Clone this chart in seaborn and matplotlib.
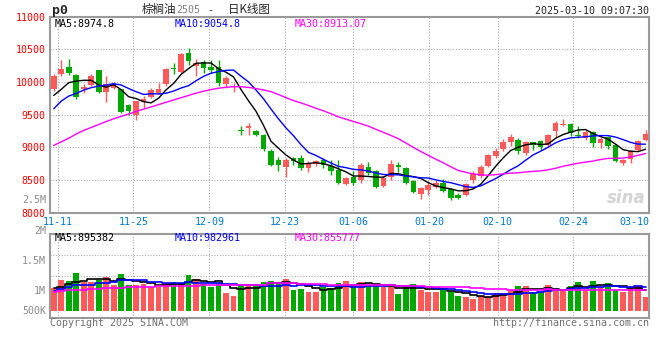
import numpy as np
import pandas as pd
import matplotlib
matplotlib.use('Agg')
import matplotlib.pyplot as plt
import seaborn as sns

# 棕榈油2505 日K, 2024-11-08 .. 2025-03-10 (80 个交易日)
opens = [9888, 10129, 10237, 10103, 9888, 9954, 10180, 9846, 9915, 9888,
         9642, 9503, 9692, 9775, 9826, 9975, 10220, 10160, 10452, 10246,
         10314, 10231, 10237, 9965, 9923, 9273, 9298, 9246, 9196, 8939,
         8805, 8693, 8837, 8837, 8683, 8745, 8805, 8708, 8657, 8437,
         8539, 8504, 8698, 8642, 8411, 8544, 8724, 8683, 8478, 8283,
         8350, 8391, 8452, 8360, 8273, 8273, 8504, 8555, 8708, 8862,
         8976, 9077, 9108, 8914, 9077, 9093, 9032, 9246, 9339, 9365,
         9196, 9145, 9231, 9068, 9154, 9042, 8760, 8822, 8965, 9108]
highs = [10118, 10338, 10360, 10129, 9975, 10129, 10190, 10092, 9995, 9900,
         9660, 9710, 9785, 9914, 9990, 10210, 10298, 10452, 10514, 10349,
         10334, 10334, 10334, 10092, 9990, 9334, 9375, 9273, 9206, 8980,
         8845, 8837, 8845, 8888, 8796, 8811, 8837, 8805, 8805, 8540,
         8642, 8760, 8771, 8657, 8555, 8811, 8771, 8698, 8504, 8400,
         8478, 8504, 8514, 8380, 8299, 8452, 8637, 8734, 8903, 8991,
         9129, 9211, 9145, 9093, 9083, 9119, 9211, 9400, 9437, 9376,
         9323, 9262, 9246, 9160, 9180, 9057, 8822, 8965, 9119, 9262]
lows = [9862, 10092, 10103, 9745, 9837, 9938, 9831, 9692, 9888, 9519,
        9503, 9426, 9606, 9760, 9811, 9938, 10129, 10145, 10257, 10092,
        10145, 10134, 9938, 9914, 9852, 9195, 9196, 9170, 8950, 8708,
        8642, 8554, 8723, 8657, 8622, 8719, 8678, 8570, 8437, 8420,
        8427, 8452, 8580, 8385, 8390, 8504, 8627, 8442, 8303, 8211,
        8273, 8376, 8324, 8196, 8206, 8258, 8462, 8530, 8693, 8837,
        8939, 9016, 8899, 8888, 8965, 8965, 9011, 9154, 9323, 9170,
        9145, 9119, 9006, 8991, 8980, 8770, 8724, 8760, 8950, 9093]
closes = [10092, 10205, 10145, 9769, 9923, 10092, 9852, 9965, 9965, 9539,
          9554, 9708, 9734, 9872, 9897, 10195, 10195, 10426, 10323, 10298,
          10221, 10185, 9991, 10057, 9938, 9257, 9323, 9185, 8980, 8723,
          8723, 8805, 8796, 8683, 8760, 8785, 8723, 8642, 8452, 8528,
          8462, 8724, 8606, 8400, 8530, 8750, 8698, 8462, 8324, 8385,
          8427, 8452, 8339, 8222, 8232, 8437, 8591, 8693, 8888, 8950,
          9077, 9154, 8939, 9077, 9042, 9006, 9196, 9376, 9365, 9222,
          9170, 9231, 9068, 9134, 9026, 8785, 8811, 8950, 9103, 9211]
# 成交量 (千手)
vol_k = [965, 1318, 1275, 1615, 1245, 1245, 1318, 1445, 1105, 1573,
         1105, 1105, 1148, 1033, 1033, 1190, 1233, 1148, 1530, 1360,
         1148, 1020, 1190, 765, 638, 1105, 1148, 1105, 1233, 1275,
         1233, 1360, 893, 935, 808, 808, 1020, 978, 1190, 1275,
         1063, 1233, 1063, 1063, 1008, 1008, 723, 1008, 1148, 893,
         820, 820, 893, 820, 638, 608, 510, 650, 608, 765,
         765, 893, 1063, 1063, 820, 820, 1105, 893, 893, 1063,
         1233, 893, 1275, 1008, 1190, 893, 820, 965, 1063, 608]

# 图首几天的均线值 (窗口内含图外的数据, 从图上读)
ma5_head = [9795, 9888, 9990, 10015]
ma10_head = [9591, 9708, 9785, 9826, 9877, 9914, 9938, 9954, 9975]
ma30_head = [9030, 9085, 9140, 9205, 9260, 9305, 9350, 9395, 9437, 9475,
             9510, 9550, 9585, 9620, 9655, 9690, 9725, 9760, 9795, 9830,
             9860, 9885, 9905, 9920, 9928, 9928, 9918, 9900, 9878]
vol_ma5_head = [965, 1033, 1135, 1220]
vol_ma10_head = [863, 935, 1033, 1105, 1105, 1105, 1178, 1178, 1233]
vol_ma30_head = [820, 860, 880, 890, 900, 920, 950, 965, 975, 985,
                 995, 1010, 1020, 1030, 1040, 1050, 1060, 1065, 1070, 1075,
                 1080, 1085, 1085, 1085, 1080, 1080, 1085, 1085, 1090]

tick_idx = [1, 11, 21, 31, 40, 50, 59, 69, 79]
tick_labels = ['11-11', '11-25', '12-09', '12-23', '01-06', '01-20', '02-10', '02-24', '03-10']
price_ticks = [8000, 8500, 9000, 9500, 10000, 10500, 11000]

RED = '#ff5959'
GREEN = '#00a800'
GRID = '#aaaaaa'
SPINE = '#9a9a9a'


def moving_avg(values, n, head):
    s = pd.Series(values, dtype=float).rolling(n).mean()
    s.iloc[:len(head)] = head
    return s.values


n = len(closes)
idx = np.arange(n)
o = np.array(opens)
c = np.array(closes)
up = c >= o
colors = np.where(up, RED, GREEN)
volumes = np.array(vol_k) * 1000

ma5 = moving_avg(closes, 5, ma5_head)
ma10 = moving_avg(closes, 10, ma10_head)
ma30 = moving_avg(closes, 30, ma30_head)
vma5 = moving_avg(vol_k, 5, vol_ma5_head) * 1000
vma10 = moving_avg(vol_k, 10, vol_ma10_head) * 1000
vma30 = moving_avg(vol_k, 30, vol_ma30_head) * 1000

sns.set_style('white')
plt.rcParams['font.family'] = ['DejaVu Sans Mono', 'Noto Sans CJK SC']

W, H = 660, 360
def fx(px): return px / W
def fy(py): return 1 - py / H

fig = plt.figure(figsize=(6.6, 3.6), dpi=100)
ax_p = fig.add_axes([fx(50), fy(212.7), fx(649.3) - fx(50), fy(16.7) - fy(212.7)])
ax_v = fig.add_axes([fx(50), fy(317.7), fx(649.3) - fx(50), fy(234.3) - fy(317.7)])

x_lo, x_hi = -0.5, n - 0.5
grid_x = [x_lo + k * n / (n - 1) for k in tick_idx]

# ---- K线 ----
ax_p.vlines(idx, lows, highs, colors=colors, lw=1, zorder=2)
ax_p.bar(idx, np.maximum(np.abs(c - o), 12), bottom=np.minimum(o, c),
         width=0.75, color=colors, linewidth=0, zorder=3)
sns.lineplot(x=idx, y=ma5, color='black', lw=1, ax=ax_p, zorder=4)
sns.lineplot(x=idx, y=ma10, color='#0000ff', lw=1, ax=ax_p, zorder=4)
sns.lineplot(x=idx, y=ma30, color='#ff00ff', lw=1, ax=ax_p, zorder=4)

ax_p.set_xlim(x_lo, x_hi)
ax_p.set_ylim(8000, 11000)
for g in grid_x[:-1]:
    ax_p.axvline(g, color=GRID, lw=0.8, ls=(0, (1, 1.5)), zorder=1)
for yv in price_ticks[1:-1]:
    ax_p.axhline(yv, color=GRID, lw=0.8, ls=(0, (1, 1.5)), zorder=1)
ax_p.set_yticks(price_ticks)
ax_p.set_yticklabels([str(t) for t in price_ticks], color='#ff0000', fontsize=7.2)
ax_p.set_xticks(grid_x)
ax_p.set_xticklabels(tick_labels, color='#0078d0', fontsize=7.2)
ax_p.get_xticklabels()[-1].set_ha('right')
ax_p.tick_params(length=0, pad=3)
ax_p.set_xlabel('')
ax_p.set_ylabel('')

# ---- 成交量 ----
vol_df = pd.DataFrame({'idx': idx, 'vol': volumes, 'dir': np.where(up, 'up', 'down')})
sns.barplot(data=vol_df, x='idx', y='vol', hue='dir', palette={'up': RED, 'down': GREEN},
            native_scale=True, dodge=False, width=0.76, saturation=1, errorbar=None,
            legend=False, linewidth=0, ax=ax_v, zorder=2)
sns.lineplot(x=idx, y=vma5, color='black', lw=1.2, drawstyle='steps-mid', ax=ax_v, zorder=4)
sns.lineplot(x=idx, y=vma10, color='#0000ff', lw=1.2, drawstyle='steps-mid', ax=ax_v, zorder=4)
sns.lineplot(x=idx, y=vma30, color='#ff00ff', lw=1.2, drawstyle='steps-mid', ax=ax_v, zorder=4)
v_lo, v_hi = -283e3, 3244e3
ax_v.set_xlim(x_lo, x_hi)
ax_v.set_ylim(v_lo, v_hi)
for g in grid_x[:-1]:
    ax_v.axvline(g, color=GRID, lw=0.8, ls=(0, (1, 1.5)), zorder=1)
for k in (1, 2, 3):
    ax_v.axhline(v_lo + (v_hi - v_lo) * k / 4, color=GRID, lw=0.8, ls=(0, (1, 1.5)), zorder=1)
ax_v.set_xticks([])
ax_v.set_yticks([])
ax_v.set_xlabel('')
ax_v.set_ylabel('')

for ax in (ax_p, ax_v):
    for sp in ax.spines.values():
        sp.set_color(SPINE)
        sp.set_linewidth(1.5)

# 成交量刻度文字 (按原图位置)
for txt, py in [('2.5M', 200), ('2M', 230.7), ('1.5M', 260.7), ('1M', 290.7), ('500K', 310.7)]:
    fig.text(fx(46), fy(py), txt, color='#8c8c8c', fontsize=7.2, ha='right', va='center')

# ---- 文字 ----
fig.text(fx(52), fy(10.5), 'p0', fontsize=9.5, weight='bold', ha='left', va='center')
fig.text(fx(141.7), fy(9.7), '棕榈油', family='Noto Sans CJK SC', fontsize=8.3, ha='left', va='center')
fig.text(fx(176.7), fy(10.2), '2505', color='#808080', fontsize=7.2, ha='left', va='center')
fig.text(fx(207), fy(9.7), '-', fontsize=7.2, ha='left', va='center')
fig.text(fx(227.7), fy(9.7), '日K线图', family='Noto Sans CJK SC', fontsize=8.3, ha='left', va='center')
fig.text(fx(649), fy(11.5), '2025-03-10 09:07:30', fontsize=7.2, ha='right', va='center')

fig.text(fx(55), fy(24), 'MA5:8974.8', color='black', fontsize=7.2, va='center')
fig.text(fx(175), fy(24), 'MA10:9054.8', color='#0000ff', fontsize=7.2, va='center')
fig.text(fx(295), fy(24), 'MA30:8913.07', color='#ff00ff', fontsize=7.2, va='center')
fig.text(fx(55), fy(238.3), 'MA5:895382', color='black', fontsize=7.2, va='center')
fig.text(fx(175), fy(238.3), 'MA10:982961', color='#0000ff', fontsize=7.2, va='center')
fig.text(fx(295), fy(238.3), 'MA30:855777', color='#ff00ff', fontsize=7.2, va='center')

fig.text(fx(50), fy(323.5), 'Copyright 2025 SINA.COM', color='#707070', fontsize=7.2, va='center')
fig.text(fx(649), fy(323.5), 'http://finance.sina.com.cn', color='#707070', fontsize=7.2, ha='right', va='center')
fig.text(fx(646), fy(198), 'sina', color='#d4d4d4', fontsize=12, style='italic', weight='bold',
         family='DejaVu Sans', ha='right', va='center')

fig.savefig('out.png', dpi=100)
plt.close(fig)
